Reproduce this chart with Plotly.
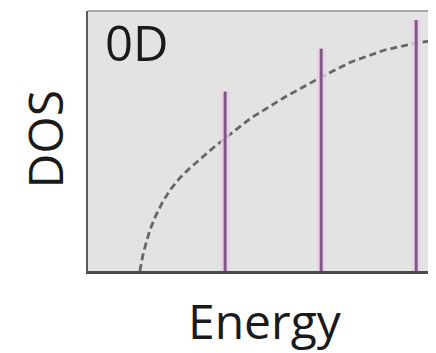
import plotly.graph_objects as go

# Discrete energy levels (0D quantum dot) and their DOS heights
level_energy = [3.94, 6.70, 9.43]
level_dos = [0.69, 0.855, 0.965]

# Bulk-like reference DOS curve (dashed)
curve_energy = [1.49, 1.58, 1.67, 1.78, 1.93, 2.13, 2.36, 2.64, 2.93, 3.22,
                3.59, 4.02, 4.68, 5.66, 6.70, 7.56, 8.53, 9.43, 10.0]
curve_dos = [0.0, 0.062, 0.108, 0.158, 0.208, 0.262, 0.312, 0.358, 0.396, 0.431,
             0.473, 0.519, 0.588, 0.669, 0.746, 0.804, 0.85, 0.877, 0.888]

panel_label = "0D"
x_label = "Energy"
y_label = "DOS"

lx, ly = [], []
for e, h in zip(level_energy, level_dos):
    lx += [e, e, None]
    ly += [0, h, None]

FONT = "Open Sans"

fig = go.Figure()
fig.add_trace(go.Scatter(x=curve_energy, y=curve_dos, mode="lines",
                         line=dict(color="#666666", width=2.8, dash="7px,4px"),
                         hoverinfo="skip", showlegend=False))
fig.add_trace(go.Scatter(x=lx, y=ly, mode="lines",
                         line=dict(color="rgba(238,205,234,0.8)", width=9),
                         hoverinfo="skip", showlegend=False))
fig.add_trace(go.Scatter(x=lx, y=ly, mode="lines",
                         line=dict(color="#7a5a82", width=3),
                         hoverinfo="skip", showlegend=False))

fig.update_layout(
    width=428, height=345,
    margin=dict(l=80, r=0, t=3, b=82),
    paper_bgcolor="white",
    plot_bgcolor="#e3e3e3",
    showlegend=False,
    xaxis=dict(range=[0, 10], showgrid=False, zeroline=False, showticklabels=False,
               ticks="", showline=True, linecolor="#4a4a4a", linewidth=3),
    yaxis=dict(range=[0, 1], showgrid=False, zeroline=False, showticklabels=False,
               ticks="", showline=True, linecolor="#5a5a5a", linewidth=2),
    shapes=[dict(type="line", xref="paper", yref="paper", x0=0, x1=1, y0=1, y1=1,
                 line=dict(color="#a8a8a8", width=2))],
    annotations=[
        dict(text=panel_label, xref="paper", yref="paper", x=0.043, y=0.88,
             xanchor="left", yanchor="middle", showarrow=False,
             font=dict(family=FONT, size=49, color="#1a1a1a")),
        dict(text=x_label, xref="paper", yref="paper", x=0.509, y=-0.19,
             xanchor="center", yanchor="middle", showarrow=False,
             font=dict(family=FONT, size=48, color="#1a1a1a")),
        dict(text=y_label, xref="paper", yref="paper", x=-0.125, y=0.504,
             xanchor="center", yanchor="middle", showarrow=False, textangle=-90,
             font=dict(family=FONT, size=48, color="#1a1a1a")),
    ],
)

fig.write_html("out.html")
